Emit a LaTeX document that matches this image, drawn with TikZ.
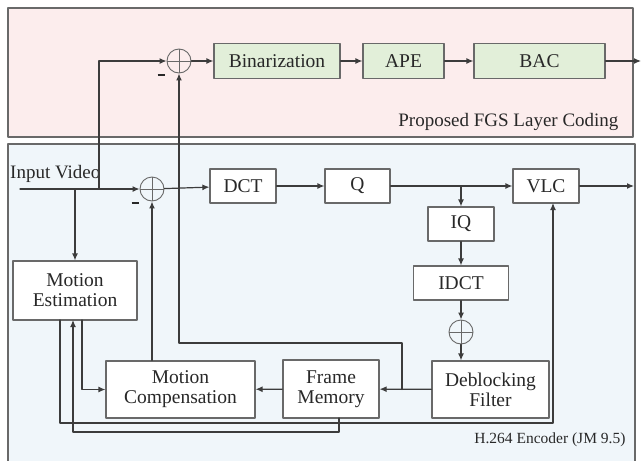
\documentclass[tikz,border=0pt]{standalone}
\usepackage{fontspec}
\setmainfont[Extension=.ttf,UprightFont=*-Regular,BoldFont=*-Bold,
  ItalicFont=*-Italic,BoldItalicFont=*-BoldItalic]{LiberationSerif}
\usepackage{tikz}
\usetikzlibrary{arrows.meta,calc}
\definecolor{pinkbg}{RGB}{252,237,237}
\definecolor{bluebg}{RGB}{240,246,250}
\definecolor{greenbox}{RGB}{226,239,217}
\definecolor{linegray}{RGB}{60,60,60}
\definecolor{boxgray}{RGB}{105,105,105}
\definecolor{txtgray}{RGB}{40,40,40}
\begin{document}
\begin{tikzpicture}[x=1pt,y=-1pt,line cap=round,line join=round,
   blk/.style={draw=boxgray,line width=1.2pt,fill=white,inner sep=0pt,
     text=txtgray,font=\rmfamily\fontsize{19.5}{20}\selectfont,align=center},
   gblk/.style={blk,fill=greenbox},
   sumnode/.style={circle,draw=boxgray,line width=0.9pt,minimum size=24pt,inner sep=0pt,
     path picture={\draw[boxgray,line width=0.9pt]
       (path picture bounding box.north) -- (path picture bounding box.south)
       (path picture bounding box.west) -- (path picture bounding box.east);}},
   conn/.style={draw=linegray,line width=1.2pt,-{Latex[length=7pt,width=6pt]}},
   sign/.style={text=txtgray,inner sep=0pt}]
\useasboundingbox (0,0) rectangle (641,461);
% panels
\fill[pinkbg] (8,8) rectangle (633,137);
\draw[boxgray,line width=1.3pt] (8,8) rectangle (633,137);
\fill[bluebg] (8,144) rectangle (635,461);
\draw[boxgray,line width=1.3pt] (8,470) -- (8,144) -- (635,144) -- (635,470);
\node[anchor=east,text=txtgray,font=\rmfamily\fontsize{19}{20}\selectfont] (fgslbl) at (622,122) {Proposed FGS Layer Coding};
\node[anchor=east,text=txtgray,font=\rmfamily\fontsize{15.5}{16}\selectfont] (enclbl) at (629,440) {H.264 Encoder (JM 9.5)};
% enhancement layer
\node[sumnode] (sumtop) at (179,61) {};
\node[gblk,minimum width=126pt,minimum height=35pt] (bin) at (277,61) {Binarization};
\node[gblk,minimum width=81pt,minimum height=35pt]  (ape) at (403.5,61) {APE};
\node[gblk,minimum width=131pt,minimum height=35pt] (bac) at (539.5,61) {BAC};
\coordinate (fgsout) at (641,61);
% base layer
\node[sumnode] (sumin) at (152,189) {};
\node[blk,minimum width=66pt,minimum height=34pt]  (dct)  at (243,186) {DCT};
\node[blk,minimum width=65pt,minimum height=34pt]  (q)    at (357.5,186) {Q};
\node[blk,minimum width=66pt,minimum height=34pt]  (vlc)  at (546,186) {VLC};
\node[blk,minimum width=66pt,minimum height=34pt]  (iq)   at (461,224) {IQ};
\node[blk,minimum width=95pt,minimum height=34pt]  (idct) at (461,283) {IDCT};
\node[sumnode] (sumrec) at (461,332) {};
\node[blk,minimum width=124pt,minimum height=59pt] (me) at (75,290.5) {Motion\\Estimation};
\node[blk,minimum width=149pt,minimum height=57pt] (mc) at (180.5,389.5) {Motion\\Compensation};
\node[blk,minimum width=96pt,minimum height=58pt]  (fm) at (331,389) {Frame\\Memory};
\node[blk,minimum width=117pt,minimum height=57pt] (df) at (490.5,389.5) {Deblocking\\Filter};
\node[anchor=base west,inner sep=0pt,text=txtgray,font=\rmfamily\fontsize{19}{20}\selectfont] (inlbl) at (10,178) {Input Video};
\coordinate (in) at (20,189);
\coordinate (vlcout) at (634,186);
\node[sign] (mtop) at (161,75) {\rule{7pt}{2.4pt}};
\node[sign] (min)  at (135,203) {\rule{7pt}{2.4pt}};
% forward path
\draw[conn] (in) -- (sumin);
\draw[conn] (sumin) -- (dct);
\draw[conn] (dct) -- (q);
\draw[conn] (q) -- (vlc);
\draw[conn] (vlc) -- (vlcout);
\draw[conn] (99,189) |- (sumtop);
\draw[conn] (75,189) -- (me);
\foreach \a/\b in {sumtop/bin,bin/ape,ape/bac,bac/fgsout}
  \draw[conn] (\a) -- (\b);
% reconstruction loop
\draw[conn] (iq.north |- q) -- (iq);
\draw[conn] (iq) -- (idct);
\draw[conn] (idct) -- (sumrec);
\draw[conn] (sumrec) -- (sumrec |- df.north);
\draw[conn] (df) -- (fm);
\draw[conn] (fm) -- (mc);
\draw[conn] (mc.north -| sumin) -- (sumin);
\draw[conn] (402,389.5) |- (179,343) -- (sumtop);
% motion paths
\draw[conn] (82,320) |- (mc.west);
\draw[conn] (60,320) |- (553,423) -- (553,203);
\draw[conn] (339,418) |- (73,432) -- (73,320);
\end{tikzpicture}
\end{document}
